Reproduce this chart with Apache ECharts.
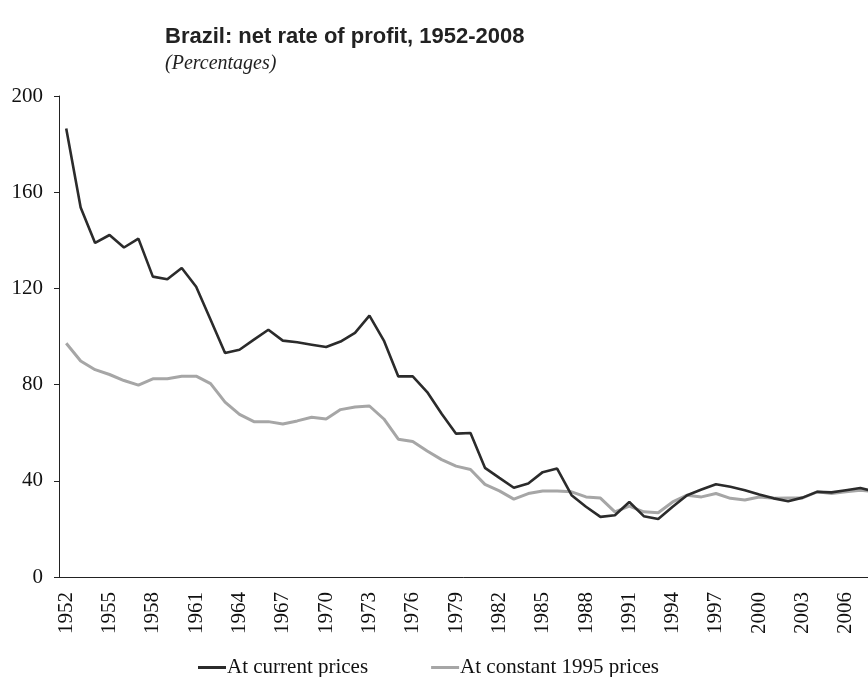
<!DOCTYPE html>
<html>
<head>
<meta charset="utf-8">
<title>Brazil: net rate of profit</title>
<script src="https://cdn.jsdelivr.net/npm/echarts@6/dist/echarts.min.js"></script>
<style>
	html,body{
		margin: 0;
		padding: 0;
		background: #ffffff;
	}
	#chart{
		width: 868px;
		height: 677px;
	}
</style>
</head>
<body>
<div id="chart"></div>
<script>
// years 1952-2008
var years = []
for(var y = 1952; y <= 2008; y++) years.push(String(y))

// (percent)
var currentPrices = [
	186.5, 153.6, 138.9, 142.2, 137.0, 140.7, 124.9, 123.8, 128.5, 120.7,
	107.0, 93.1, 94.5, 98.7, 102.8, 98.3, 97.6, 96.6, 95.6, 97.9,
	101.5, 108.7, 98.3, 83.4, 83.4, 76.9, 67.9, 59.6, 59.9, 45.4,
	41.2, 37.1, 38.9, 43.6, 45.1, 34.0, 29.2, 25.0, 25.7, 31.2,
	25.3, 24.1, 29.2, 34.0, 36.4, 38.6, 37.5, 36.1, 34.3, 32.7,
	31.5, 33.0, 35.4, 35.2, 36.1, 37.0, 35.5
]
var constantPrices = [
	97.2, 89.8, 86.2, 84.2, 81.7, 79.8, 82.4, 82.4, 83.5, 83.5,
	80.4, 72.7, 67.6, 64.6, 64.6, 63.6, 64.9, 66.4, 65.7, 69.6,
	70.7, 71.1, 65.7, 57.3, 56.3, 52.4, 48.8, 46.1, 44.7, 38.5,
	35.8, 32.4, 34.7, 35.8, 35.8, 35.4, 33.3, 32.8, 27.1, 29.5,
	27.1, 26.7, 31.2, 34.0, 33.3, 34.7, 32.7, 32.0, 33.3, 32.7,
	32.9, 32.9, 35.4, 34.7, 35.4, 36.1, 35.5
]
var seriesNames = ["At current prices", "At constant 1995 prices"]
var yTicks = [0, 40, 80, 120, 160, 200]

var serif = "Liberation Serif"

var option = {
	animation: false,
	backgroundColor: "#ffffff",
	title: {
		text: "Brazil: net rate of profit, 1952-2008",
		subtext: "(Percentages)",
		left: 160,
		top: 21,
		itemGap: 6,
		textStyle: {
			fontFamily: "Liberation Sans",
			fontWeight: "bold",
			fontSize: 22,
			color: "#222222"
		},
		subtextStyle: {
			fontFamily: serif,
			fontStyle: "italic",
			fontSize: 20,
			color: "#222222"
		}
	},
	legend: {
		left: 193,
		top: 652,
		itemGap: 63,
		itemWidth: 28,
		itemHeight: 3,
		icon: "rect",
		data: seriesNames,
		textStyle: {
			fontFamily: serif,
			fontSize: 21,
			color: "#111111",
			padding: [0, 0, 0, -4]
		}
	},
	grid: {
		left: 59,
		top: 96,
		bottom: 100,
		width: 823,
		containLabel: false,
		outerBoundsMode: "none"
	},
	xAxis: {
		type: "category",
		data: years,
		boundaryGap: true,
		axisLine: {
			lineStyle: {color: "#222222", width: 1}
		},
		axisTick: {
			interval: 0,
			length: 4,
			lineStyle: {color: "#222222"}
		},
		axisLabel: {
			interval: 2,
			rotate: 90,
			margin: 15,
			fontFamily: serif,
			fontSize: 21,
			color: "#111111"
		},
		splitLine: {show: false}
	},
	yAxis: {
		type: "value",
		min: yTicks[0],
		max: yTicks[yTicks.length - 1],
		interval: 40,
		axisLine: {
			show: true,
			lineStyle: {color: "#222222", width: 1}
		},
		axisTick: {
			show: true,
			length: 5,
			lineStyle: {color: "#222222"}
		},
		axisLabel: {
			margin: 16,
			fontFamily: serif,
			fontSize: 21,
			color: "#111111"
		},
		splitLine: {show: false}
	},
	series: [
		{
			name: seriesNames[0],
			type: "line",
			data: currentPrices,
			showSymbol: false,
			symbol: "none",
			z: 3,
			itemStyle: {color: "#2b2b2b"},
			lineStyle: {color: "#2b2b2b", width: 2.6}
		},
		{
			name: seriesNames[1],
			type: "line",
			data: constantPrices,
			showSymbol: false,
			symbol: "none",
			z: 2,
			itemStyle: {color: "#a6a6a6"},
			lineStyle: {color: "#a6a6a6", width: 3}
		}
	]
}

var myChart = echarts.init(document.getElementById("chart"))
myChart.setOption(option)
</script>
</body>
</html>
